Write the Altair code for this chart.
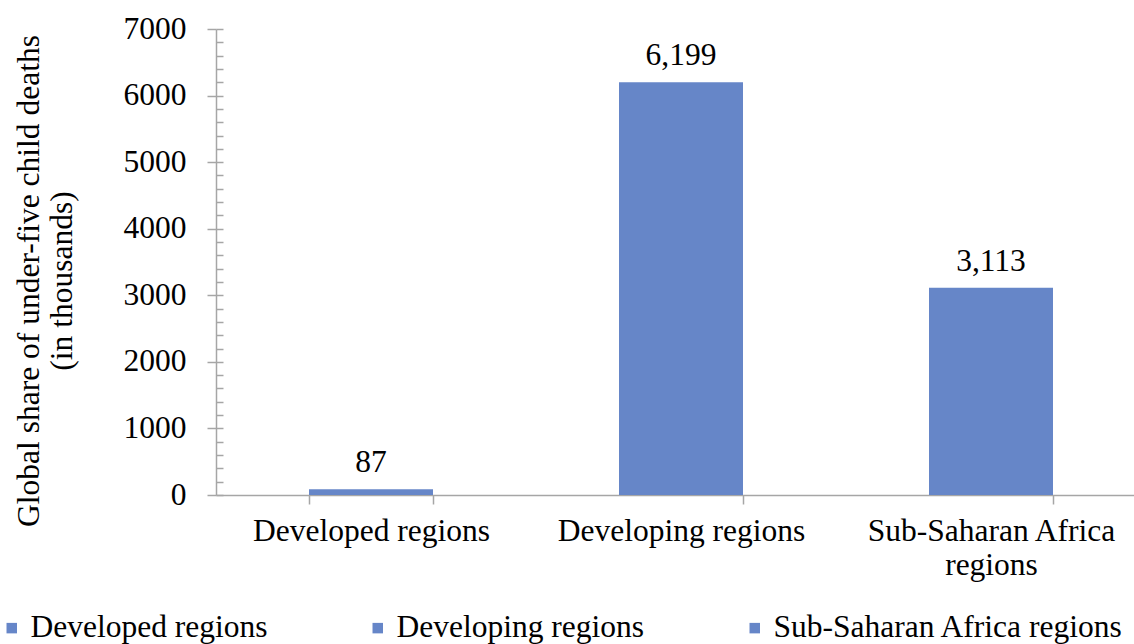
import altair as alt
import pandas as pd

# Under-five child deaths, thousands
categories = ["Developed regions", "Developing regions", "Sub-Saharan Africa regions"]
deaths = [87, 6199, 3113]
y_title = ["Global share of under-five child deaths", "(in thousands)"]

df = pd.DataFrame({"region": categories, "deaths": deaths})

FONT = "Liberation Serif"
BAR = "#6686c8"
AXIS = "#a6a6a6"
FS = 31.5

x_enc = alt.X(
    "region:N",
    sort=categories,
    title=None,
    scale=alt.Scale(range=[0, 930], paddingInner=0.6, paddingOuter=0.3),
    axis=alt.Axis(
        labelAngle=0,
        labelPadding=11,
        labelBaseline="top",
        labelLineHeight=34,
        labelLimit=0,
        labelExpr="datum.value == 'Sub-Saharan Africa regions' ? ['Sub-Saharan Africa', 'regions'] : datum.label",
        tickBand="extent",
        tickSize=9,
    ),
)

y_scale = alt.Scale(domain=[0, 7000], nice=False)

major_axis = alt.Axis(
    orient="left",
    tickCount=7,
    format="d",
    tickSize=9,
    labelPadding=21,
    title=None,
)

# inward minor ticks every 200
minor_axis = alt.Axis(
    orient="left",
    tickCount=35,
    tickSize=7,
    offset=-7,
    labels=False,
    domain=False,
    title=None,
)

bars = alt.Chart(df).mark_bar(color=BAR).encode(
    x=x_enc,
    y=alt.Y("deaths:Q", scale=y_scale, axis=major_axis),
    color=alt.Color(
        "region:N",
        sort=categories,
        scale=alt.Scale(domain=categories, range=[BAR, BAR, BAR]),
        legend=alt.Legend(
            title=None,
            orient="none",
            direction="horizontal",
            columns=3,
            legendX=-220,
            legendY=583,
            symbolType="square",
            symbolSize=110,
            symbolStrokeWidth=0,
            symbolOpacity=1,
            labelFont=FONT,
            labelFontSize=FS,
            labelColor="black",
            labelOffset=3,
            labelLimit=0,
            columnPadding=94,
        ),
    ),
)

labels = alt.Chart(df).mark_text(
    baseline="alphabetic", dy=-17, font=FONT, fontSize=FS, color="black"
).encode(
    x=alt.X("region:N", sort=categories),
    y=alt.Y("deaths:Q", scale=y_scale, axis=minor_axis),
    text=alt.Text("deaths:Q", format=","),
)

# rotated two-line y-axis title
title = alt.Chart(pd.DataFrame({"t": [0]})).mark_text(
    angle=270,
    align="center",
    baseline="middle",
    font=FONT,
    fontSize=FS,
    lineHeight=33,
    color="black",
).encode(
    x=alt.value(-186),
    y=alt.value(252),
    text=alt.value(y_title),
)

chart = (
    alt.layer(bars, labels, title)
    .resolve_axis(y="independent")
    .properties(
        width=918,
        height=466,
        autosize=alt.AutoSizeParams(type="none"),
        padding={"left": 216, "top": 29, "right": 0, "bottom": 149},
    )
    .configure_view(stroke=None)
    .configure_axis(
        labelFont=FONT,
        labelFontSize=FS,
        labelColor="black",
        tickColor=AXIS,
        tickWidth=1.5,
        domainColor=AXIS,
        domainWidth=1.5,
        grid=False,
    )
)

chart.save("out.html", embed_options={"renderer": "svg", "actions": False})
